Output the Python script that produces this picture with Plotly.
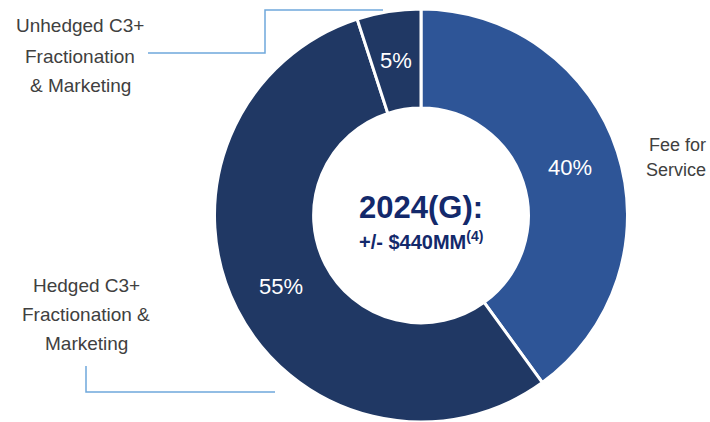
import math
import plotly.graph_objects as go

# Segment mix for the 2024 guidance
segments = ["Fee for Service", "Hedged C3+ Fractionation & Marketing",
            "Unhedged C3+ Fractionation & Marketing"]
shares = [40, 55, 5]
colors = ["#2E5597", "#203864", "#203864"]

title_line = "2024(G):"
subtitle_line = "+/- $440MM<sup>(4)</sup>"

W, H = 710, 422
HOLE = 0.52

# Pie placement in pixels (left, right, top, bottom of the domain)
DOM_L, DOM_R, DOM_T, DOM_B = 212, 630, 9, 422


def px(x):
    return x / W


def py(y):
    return 1 - y / H


fig = go.Figure(go.Pie(
    labels=segments,
    values=shares,
    sort=False,
    direction="clockwise",
    rotation=0,
    hole=HOLE,
    marker=dict(colors=colors, line=dict(color="white", width=3)),
    textinfo="none",
    domain=dict(x=[px(DOM_L), px(DOM_R)], y=[py(DOM_B), py(DOM_T)]),
    showlegend=False,
    hoverinfo="label+percent",
))

# Percentage labels at the middle of the ring, at each slice's mid-angle
cx = (DOM_L + DOM_R) / 2
radius = min(DOM_R - DOM_L, DOM_B - DOM_T) / 2
cy = DOM_B - radius
r_mid = radius * (1 + HOLE) / 2
total = sum(shares)
start = 0.0
for value in shares:
    mid = (start + value / 2) / total * 2 * math.pi
    start += value
    lx = cx + r_mid * math.sin(mid)
    ly = cy - r_mid * math.cos(mid)
    fig.add_annotation(x=px(lx), y=py(ly), xref="paper", yref="paper",
                       text=f"{value}%", showarrow=False,
                       xanchor="center", yanchor="middle",
                       font=dict(family="Liberation Sans, Arial", size=22,
                                 color="white"))

label_font = dict(family="Liberation Sans, Arial", size=19, color="#404040")


def add_lines(lines, x, ys, xanchor="center", size=19):
    for text, y in zip(lines, ys):
        fig.add_annotation(x=px(x), y=py(y), xref="paper", yref="paper",
                           text=text, showarrow=False, xanchor=xanchor,
                           yanchor="middle",
                           font=dict(label_font, size=size))


add_lines(["Unhedged C3+", "Fractionation", "& Marketing"], 80, [26, 56, 85])
add_lines(["Hedged C3+", "Fractionation &", "Marketing"], 86, [285, 314, 343])
add_lines(["Fee for", "Service"], 708, [145, 170], xanchor="right", size=18)

# Center caption inside the donut hole
fig.add_annotation(x=px(cx), y=py(207), xref="paper", yref="paper",
                   text=f"<b>{title_line}</b>", showarrow=False,
                   xanchor="center", yanchor="middle",
                   font=dict(family="Liberation Sans, Arial", size=31,
                             color="#13296B"))
fig.add_annotation(x=px(cx), y=py(240), xref="paper", yref="paper",
                   text=f"<b>{subtitle_line}</b>", showarrow=False,
                   xanchor="center", yanchor="middle",
                   font=dict(family="Liberation Sans, Arial", size=20,
                             color="#13296B"))

# Leader lines
leader = dict(color="#6FA8DC", width=1.5)
fig.add_shape(type="path", xref="paper", yref="paper",
              path=(f"M {px(148)} {py(53)} L {px(265)} {py(53)} "
                    f"L {px(265)} {py(10)} L {px(383)} {py(10)}"),
              line=leader)
fig.add_shape(type="path", xref="paper", yref="paper",
              path=(f"M {px(86)} {py(366)} L {px(86)} {py(392)} "
                    f"L {px(275)} {py(392)}"),
              line=leader)

fig.update_layout(
    width=W, height=H,
    margin=dict(l=0, r=0, t=0, b=0),
    paper_bgcolor="white",
    plot_bgcolor="white",
)

fig.write_html("out.html")
